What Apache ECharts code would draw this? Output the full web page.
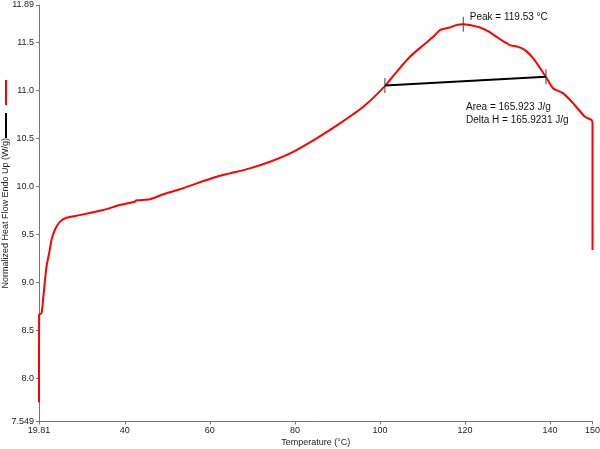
<!DOCTYPE html>
<html>
<head>
<meta charset="utf-8">
<style>
  html, body { margin: 0; padding: 0; background: #fff; }
  #chart { width: 600px; height: 449px; }
</style>
<script src="https://cdn.jsdelivr.net/npm/echarts@6/dist/echarts.min.js"></script>
</head>
<body>
<div id="chart"></div>
<script>
// heat flow trace, [temperature °C, W/g]
const heatFlow = [
  [19.81, 7.75], [19.83, 8.66], [20.40, 8.68], [20.77, 8.82], [21.57, 9.16],
  [22.35, 9.34], [22.75, 9.44], [23.53, 9.545], [24.70, 9.63], [26.28, 9.673],
  [29.41, 9.70], [34.89, 9.753], [38.82, 9.805], [42.3, 9.84], [42.75, 9.855],
  [45.88, 9.865], [49.01, 9.917], [52.94, 9.969], [56.87, 10.031], [61.57, 10.10],
  [64.70, 10.135], [69.41, 10.1875], [74.12, 10.256], [79.60, 10.36], [85.10, 10.50],
  [90.59, 10.656], [96.07, 10.829], [101.17, 11.045], [103.93, 11.194], [107.06, 11.35],
  [109.88, 11.46], [112.54, 11.558], [114.12, 11.628], [116.47, 11.656], [117.88, 11.68],
  [119.6, 11.69], [121.41, 11.68], [123.53, 11.656], [125.41, 11.618], [127.46, 11.558],
  [128.94, 11.514], [130.59, 11.472], [132.54, 11.454], [134.12, 11.42], [136.07, 11.333],
  [139.06, 11.139], [140.77, 11.02], [143.13, 10.969], [145.48, 10.865], [148.23, 10.725],
  [149.81, 10.69], [150.0, 10.656], [150.0, 9.336]
];
const baseline = [[101.17, 11.05], [139.06, 11.142]];
const peak = [119.6, 11.69];

const xTicks = [19.81, 40, 60, 80, 100, 120, 140, 150];
const yTicks = [7.549, 8.0, 8.5, 9.0, 9.5, 10.0, 10.5, 11.0, 11.5, 11.89];
const yTickLabels = ['7.549', '8.0', '8.5', '9.0', '9.5', '10.0', '10.5', '11.0', '11.5', '11.89'];

const peakText = 'Peak = 119.53 °C';
const areaText = 'Area = 165.923 J/g\nDelta H = 165.9231 J/g';

const font = 'Liberation Sans, Arial, sans-serif';
const chart = echarts.init(document.getElementById('chart'));

chart.setOption({
  animation: false,
  textStyle: { fontFamily: font },
  legend: {
    data: ['Heat Flow', 'Baseline'],
    orient: 'vertical',
    left: 5,
    top: 80,
    padding: 0,
    icon: 'rect',
    itemWidth: 2,
    itemHeight: 25,
    itemGap: 8,
    formatter: () => '',
    selectedMode: false
  },
  grid: { left: 39, right: 7.5, top: 5, bottom: 27.5, outerBoundsMode: 'none', containLabel: false },
  xAxis: {
    type: 'value',
    min: 19.81,
    max: 150,
    name: 'Temperature (°C)',
    nameLocation: 'middle',
    nameGap: 17,
    nameMoveOverlap: false,
    nameTextStyle: { fontSize: 9, color: '#222', fontFamily: font },
    axisLine: { lineStyle: { color: '#777', width: 1 } },
    axisTick: { customValues: xTicks, length: 3, lineStyle: { color: '#777' } },
    axisLabel: {
      customValues: xTicks,
      fontSize: 9, color: '#222', margin: 5,
      formatter: v => String(v)
    },
    splitLine: { show: false }
  },
  yAxis: {
    type: 'value',
    min: 7.549,
    max: 11.89,
    name: 'Normalized Heat Flow Endo Up (W/g)',
    nameLocation: 'middle',
    nameGap: 29,
    nameMoveOverlap: false,
    nameTextStyle: { fontSize: 9, color: '#222', fontFamily: font },
    axisLine: { show: true, lineStyle: { color: '#777', width: 1 } },
    axisTick: { show: true, customValues: yTicks, length: 3, lineStyle: { color: '#777' } },
    axisLabel: {
      customValues: yTicks,
      fontSize: 9, color: '#222', margin: 5,
      formatter: v => {
        const i = yTicks.findIndex(t => Math.abs(t - v) < 1e-6);
        return i >= 0 ? yTickLabels[i] : '';
      }
    },
    splitLine: { show: false }
  },
  series: [
    {
      name: 'Heat Flow',
      type: 'line',
      data: heatFlow,
      showSymbol: false,
      smooth: 0.25,
      color: '#ff0000',
      lineStyle: { color: '#ff0000', width: 2 },
      z: 3
    },
    {
      name: 'Baseline',
      type: 'line',
      data: baseline,
      showSymbol: false,
      color: '#000',
      lineStyle: { color: '#000', width: 2 },
      z: 4
    },
    {
      name: 'Markers',
      type: 'scatter',
      symbol: 'rect',
      symbolSize: [1, 15],
      itemStyle: { color: '#444', opacity: 1 },
      z: 5,
      data: [
        baseline[0],
        baseline[1],
        {
          value: peak,
          label: {
            show: true,
            position: 'right',
            offset: [1, -7],
            formatter: peakText,
            fontSize: 10,
            color: '#111',
            fontFamily: font
          }
        }
      ]
    }
  ],
  graphic: [
    {
      type: 'text',
      left: 466,
      top: 101,
      style: {
        text: areaText,
        font: '10px ' + font,
        fill: '#111',
        lineHeight: 13
      }
    }
  ]
});
</script>
</body>
</html>
